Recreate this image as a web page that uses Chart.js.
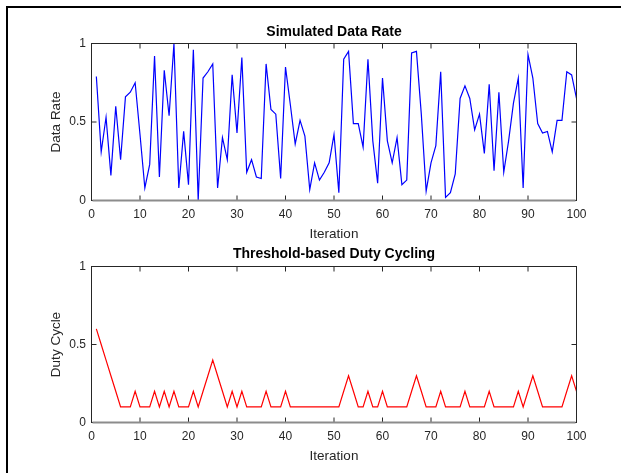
<!DOCTYPE html>
<html>
<head>
<meta charset="utf-8">
<script src="https://cdn.jsdelivr.net/npm/chart.js@4/dist/chart.umd.min.js"></script>
<style>
  html, body { margin: 0; padding: 0; background: #fff; }
  #wrap { position: relative; width: 621px; height: 473px; overflow: hidden; background: #fff; }
  #frame { position: absolute; left: 6px; top: 6px; right: -10px; bottom: -10px; border-left: 2px solid #000; border-top: 2px solid #000; }
  canvas { position: absolute; left: 0; }
  #c1 { top: 0; }
  #c2 { top: 245px; }
</style>
</head>
<body>
<div id="wrap">
  <div id="frame"></div>
  <canvas id="c1" width="621" height="245"></canvas>
  <canvas id="c2" width="621" height="228"></canvas>
</div>
<script>
// ---- data ----
const iterations = [1,2,3,4,5,6,7,8,9,10,11,12,13,14,15,16,17,18,19,20,
  21,22,23,24,25,26,27,28,29,30,31,32,33,34,35,36,37,38,39,40,
  41,42,43,44,45,46,47,48,49,50,51,52,53,54,55,56,57,58,59,60,
  61,62,63,64,65,66,67,68,69,70,71,72,73,74,75,76,77,78,79,80,
  81,82,83,84,85,86,87,88,89,90,91,92,93,94,95,96,97,98,99,100];

const dataRate = [0.79,0.31,0.53,0.16,0.60,0.26,0.66,0.69,0.75,0.42,
  0.08,0.23,0.92,0.15,0.83,0.54,1.00,0.08,0.44,0.10,
  0.96,0.00,0.78,0.82,0.87,0.08,0.40,0.26,0.80,0.43,
  0.91,0.18,0.26,0.15,0.14,0.87,0.58,0.55,0.14,0.85,
  0.61,0.36,0.51,0.41,0.07,0.24,0.13,0.18,0.24,0.42,
  0.05,0.90,0.95,0.49,0.49,0.34,0.90,0.38,0.11,0.78,
  0.38,0.24,0.40,0.10,0.13,0.94,0.95,0.55,0.06,0.24,
  0.35,0.82,0.02,0.05,0.17,0.65,0.73,0.65,0.45,0.55,
  0.30,0.74,0.19,0.69,0.18,0.38,0.62,0.78,0.08,0.93,
  0.78,0.49,0.43,0.44,0.31,0.51,0.51,0.82,0.80,0.65];

const dutyCycle = [0.6,0.5,0.4,0.3,0.2,0.1,0.1,0.1,0.2,0.1,
  0.1,0.1,0.2,0.1,0.2,0.1,0.2,0.1,0.1,0.1,
  0.2,0.1,0.2,0.3,0.4,0.3,0.2,0.1,0.2,0.1,
  0.2,0.1,0.1,0.1,0.1,0.2,0.1,0.1,0.1,0.2,
  0.1,0.1,0.1,0.1,0.1,0.1,0.1,0.1,0.1,0.1,
  0.1,0.2,0.3,0.2,0.1,0.1,0.2,0.1,0.1,0.2,
  0.1,0.1,0.1,0.1,0.1,0.2,0.3,0.2,0.1,0.1,
  0.1,0.2,0.1,0.1,0.1,0.1,0.2,0.1,0.1,0.1,
  0.1,0.2,0.1,0.1,0.1,0.1,0.1,0.2,0.1,0.2,
  0.3,0.2,0.1,0.1,0.1,0.1,0.1,0.2,0.3,0.2];

const xTickStep = 10;
const yTickStep = 0.5;
const titles = ['Simulated Data Rate', 'Threshold-based Duty Cycling'];
const yLabels = ['Data Rate', 'Duty Cycle'];
const xLabel = 'Iteration';

// ---- styling helpers ----
const FONT = "'Liberation Sans', Arial, Helvetica, sans-serif";
const AXIS = '#262626';

const matlabBox = {
  id: 'matlabBox',
  afterDatasetsDraw(chart) {
    const { ctx, chartArea: a, scales } = chart;
    const x = scales.x, y = scales.y;
    const tl = 5;
    ctx.save();
    ctx.strokeStyle = AXIS;
    ctx.lineWidth = 1;
    ctx.beginPath();
    x.ticks.forEach(t => {
      const px = x.getPixelForValue(t.value);
      ctx.moveTo(px, a.bottom); ctx.lineTo(px, a.bottom - tl);
      ctx.moveTo(px, a.top); ctx.lineTo(px, a.top + tl);
    });
    y.ticks.forEach(t => {
      const py = y.getPixelForValue(t.value);
      ctx.moveTo(a.left, py); ctx.lineTo(a.left + tl, py);
      ctx.moveTo(a.right, py); ctx.lineTo(a.right - tl, py);
    });
    ctx.stroke();
    ctx.strokeRect(a.left, a.top, a.right - a.left, a.bottom - a.top);
    ctx.strokeStyle = '#8c8c8c';
    ctx.lineWidth = 2;
    ctx.beginPath();
    ctx.moveTo(a.left + 1, a.bottom);
    ctx.lineTo(a.right - 1, a.bottom);
    ctx.stroke();
    ctx.restore();
  }
};

function makeChart(id, values, color, title, yLabel, geo) {
  return new Chart(document.getElementById(id), {
    type: 'line',
    data: {
      labels: iterations,
      datasets: [{
        data: values,
        borderColor: color,
        borderWidth: 1.2,
        pointRadius: 0,
        tension: 0,
        fill: false
      }]
    },
    options: {
      responsive: false,
      animation: false,
      devicePixelRatio: 1,
      layout: { padding: { left: 0, right: geo.right, top: 0, bottom: 0 } },
      plugins: {
        legend: { display: false },
        tooltip: { enabled: false },
        title: {
          display: true,
          text: title,
          fullSize: false,
          color: '#000',
          font: { family: FONT, size: 14, weight: 'bold', lineHeight: 1.2 },
          padding: { top: geo.titleTop, bottom: geo.titleBottom }
        }
      },
      scales: {
        x: {
          type: 'linear',
          min: 0, max: 100,
          grid: { display: false, drawTicks: false },
          border: { display: false },
          ticks: { stepSize: xTickStep, color: AXIS, padding: geo.xTickPad, maxRotation: 0,
                   font: { family: FONT, size: 12 } },
          title: { display: true, text: xLabel, color: AXIS,
                   font: { family: FONT, size: 13.5, lineHeight: 1.2 },
                   padding: { top: 0, bottom: geo.xTitleBottom } },
          afterFit(s) { s.height = geo.xHeight; }
        },
        y: {
          min: 0, max: 1,
          grid: { display: false, drawTicks: false },
          border: { display: false },
          ticks: { stepSize: yTickStep, color: AXIS, padding: 5.5,
                   callback: (v) => String(v),
                   font: { family: FONT, size: 12 } },
          title: { display: true, text: yLabel, color: AXIS,
                   font: { family: FONT, size: 13.5, lineHeight: 1.2 },
                   padding: { top: 48, bottom: 0 } },
          afterFit(s) { s.width = 91.5; }
        }
      }
    },
    plugins: [matlabBox]
  });
}

makeChart('c1', dataRate, '#0000ff', titles[0], yLabels[0],
  { right: 44.5, titleTop: 23.6, titleBottom: 3.1, xHeight: 44.5, xTickPad: 7, xTitleBottom: 2.7 });
makeChart('c2', dutyCycle, '#ff0000', titles[1], yLabels[1],
  { right: 44.5, titleTop: 0.6, titleBottom: 4.1, xHeight: 50.5, xTickPad: 7, xTitleBottom: 8.7 });
</script>
</body>
</html>
